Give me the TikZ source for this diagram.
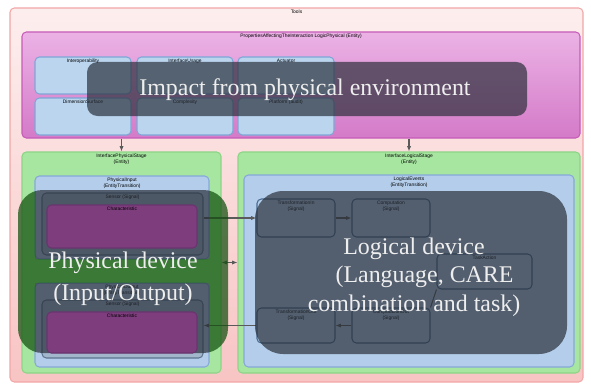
\documentclass[tikz,border=0pt]{standalone}
\usepackage{fontspec}
\setmainfont{Liberation Serif}
\setsansfont{Liberation Sans}
\usetikzlibrary{positioning,fit,arrows.meta}

\definecolor{toolstop}{HTML}{FDEEEE}
\definecolor{toolsbot}{HTML}{F8C4C4}
\definecolor{toolsline}{HTML}{F2A6A6}
\definecolor{propstop}{HTML}{EBB2E5}
\definecolor{propsbot}{HTML}{D47AC8}
\definecolor{propsline}{HTML}{C65CB8}
\definecolor{topblue}{HTML}{BBD5EF}
\definecolor{topblueline}{HTML}{7EA6D6}
\definecolor{stagegreen}{HTML}{A6E6A0}
\definecolor{stageline}{HTML}{8CD486}
\definecolor{transblue}{HTML}{B3CDEA}
\definecolor{transline}{HTML}{86A8D8}
\definecolor{sensorgray}{HTML}{A2B6CC}
\definecolor{sensorline}{HTML}{5E7590}
\definecolor{charpurple}{HTML}{7E3E7E}
\definecolor{charline}{HTML}{6A3470}
\definecolor{logline}{HTML}{4A6A90}
\definecolor{veilgray}{HTML}{262C36}
\definecolor{veilgreen}{HTML}{12500F}
\definecolor{veiltext}{HTML}{EEEEEE}
\definecolor{arrowgray}{HTML}{5A5A5A}

\begin{document}
\begin{tikzpicture}[x=0.02cm,y=-0.02cm,
    box/.style={draw, rounded corners=2.5pt, inner sep=0pt, line width=0.6pt},
    lbl/.style={anchor=north, inner sep=1.2pt, align=center, font=\fontsize{2.8}{3.3}\selectfont\sffamily},
    topbox/.style={box, fill=topblue, draw=topblueline},
    stage/.style={box, fill=stagegreen, draw=stageline},
    trans/.style={box, fill=transblue, draw=transline},
    signal/.style={box, fill=sensorgray, draw=sensorline},
    charbox/.style={box, fill=charpurple, draw=charline},
    logbox/.style={box, fill=transblue, draw=logline},
    veil/.style={fill=veilgray, fill opacity=0.68, inner sep=0pt},
    greenveil/.style={fill=veilgreen, fill opacity=0.72},
    bigtext/.style={text=veiltext, align=center, inner sep=0pt, font=\fontsize{13.6}{18}\selectfont},
    arr/.style={-{Latex[length=3pt,width=2.4pt]}, draw=arrowgray, line width=0.6pt},
    dbl/.style={arr, {Latex[length=3pt,width=2.4pt]}-{Latex[length=3pt,width=2.4pt]}}]

    \useasboundingbox[fill=white] (0,0) rectangle (591,385);

    % Tools
    \node[box, draw=toolsline, top color=toolstop, bottom color=toolsbot, fit={(10,8) (583,382)}, label={[lbl]north:Tools}] (tools) {};

    % Properties
    \node[box, draw=propsline, top color=propstop, bottom color=propsbot, fit={(22,32) (580,138)},
        label={[lbl]north:PropertiesAffectingTheInteraction LogicPhysical (Entity)}] (props) {};
    \foreach \n/\x/\y/\t in {iop/35/57/Interoperability, use/137/57/InterfaceUsage, act/238/57/Actuator,
        dim/35/98/DimensionSurface, cpx/137/98/Complexity, plt/238/98/Platform (audit)}
        \node[topbox, fit={(\x,\y) (\x+96,\y+37)}, label={[lbl]north:\t}] (\n) {};

    % Physical stage
    \node[stage, fit={(22,152) (221,373)}, label={[lbl]north:{InterfacePhysicalStage\\(Entity)}}] (physstage) {};
    \node[trans, fit={(35,176) (209,259)}, label={[lbl]north:{PhysicalInput\\(EntityTransition)}}] (physin) {};
    \node[trans, fit={(35,283) (209,367)}, label={[lbl]north:{PhysicalOutput\\(EntityTransition)}}] (physout) {};
    \node[signal, fit={(42,193) (203,255)}, label={[lbl]north:Sensor (Signal)}] (sens1) {};
    \node[signal, fit={(42,300) (203,358)}, label={[lbl]north:Sensor (Signal)}] (sens2) {};

    % Logical stage
    \node[stage, fit={(238,152) (580,373)}, label={[lbl]north:{InterfaceLogicalStage\\(Entity)}}] (logstage) {};
    \node[trans, fit={(244,175) (574,367)}, label={[lbl]north:{LogicalEvents\\(EntityTransition)}}] (logev) {};
    \node[logbox, fit={(257,199) (335,237)}, label={[lbl]north:{TransformationIn\\(Signal)}}] (transin) {};
    \node[logbox, fit={(352,199) (430,237)}, label={[lbl]north:{Computation\\(Signal)}}] (comp) {};
    \node[logbox, fit={(437,254) (532,289)}, label={[lbl]north:TaskAction}] (task) {};
    \node[logbox, fit={(257,308) (335,343)}, label={[lbl]north:{TransformationOut\\(Signal)}}] (transout) {};
    \node[logbox, fit={(352,308) (430,343)}, label={[lbl]north:{ComputationOut\\(Signal)}}] (compout) {};

    % Connections
    \draw[arr] (props.south -| physstage.north) -- (physstage.north);
    \draw[arr] (props.south -| logstage.north) -- (logstage.north);
    \draw[dbl] (physstage.east) -- (logstage.west);
    \draw[arr] (transin.west -| sens1.east) -- (transin.west);
    \draw[arr] (transin) -- (comp);
    \draw[arr] (compout) -- (transout);
    \draw[arr] (transout.west) -- (transout.west -| sens2.east);
    \draw[draw=arrowgray, line width=0.6pt] (task.south west) -- (compout.north east);

    % Highlights
    \node[veil, rounded corners=6pt, fit={(87,62) (527,116)}] (impact) {};
    \node[veil, rounded corners=16pt, fit={(255,191) (567,354)}] (logdev) {};

    \coordinate (pdnw) at (18,190);
    \coordinate (pdse) at (228,353);
    \begin{scope}
        \clip (35,176) rectangle (209,259) (35,283) rectangle (209,367);
        \fill[veil, rounded corners=14pt] (pdnw) rectangle (pdse);
    \end{scope}
    \begin{scope}
        \clip (0,150) rectangle (35,375) (209,150) rectangle (240,375) (35,259) rectangle (209,283);
        \fill[greenveil, rounded corners=14pt] (pdnw) rectangle (pdse);
    \end{scope}

    \node[charbox, fit={(47,205) (197,248)}, label={[lbl]north:Characteristic}] (char1) {};
    \node[charbox, fit={(47,312) (197,353)}, label={[lbl]north:Characteristic}] (char2) {};

    % Texts
    \node[bigtext] (impacttext) at (305,90) {Impact from physical environment};
    \node[bigtext] (physdev) at (123,279) {Physical device\\(Input/Output)};
    \node[bigtext, font=\fontsize{13.6}{16.2}\selectfont] (logtext) at (414,277)
        {Logical device\\\hspace{12pt}(Language, CARE\\combination and task)};
\end{tikzpicture}
\end{document}
